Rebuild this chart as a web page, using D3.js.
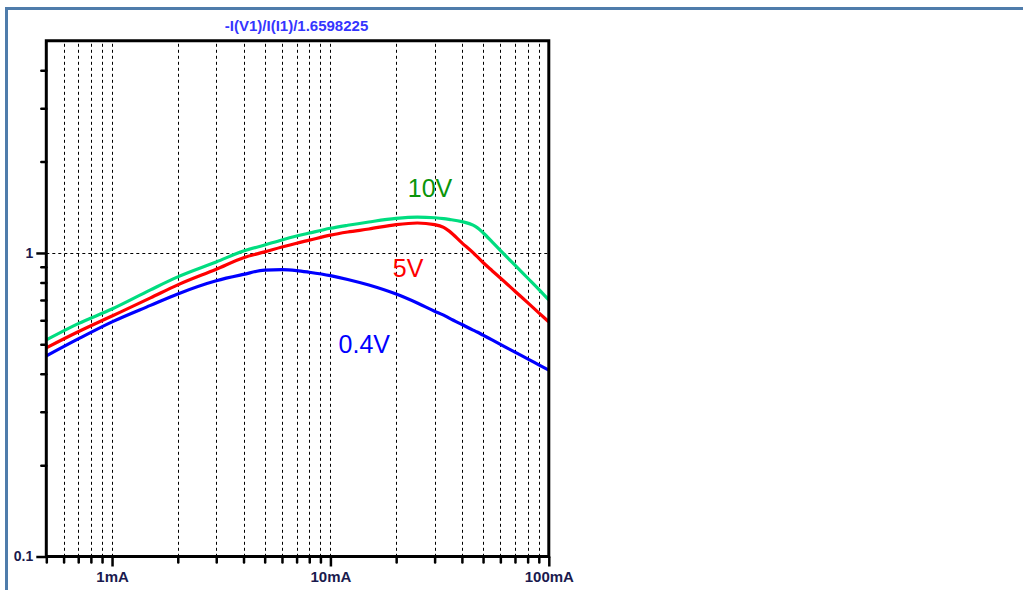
<!DOCTYPE html>
<html><head><meta charset="utf-8">
<script src="https://cdn.jsdelivr.net/npm/d3@7/dist/d3.min.js"></script>
<style>html,body{margin:0;padding:0;background:#fff;}svg{display:block;}</style>
</head><body>
<svg id="chart" width="1023" height="590"></svg>
<script>
// ---- data (current in mA, gain) ----
const currents = [0.5, 0.7, 1, 1.5, 2, 3, 4, 5, 6, 7, 8, 10, 12, 15, 20, 25, 30, 33, 35, 40, 45, 47, 50, 55, 60, 70, 80, 90, 100];
const gain10V = [0.517, 0.585, 0.654, 0.756, 0.834, 0.934, 1.015, 1.062, 1.104, 1.137, 1.163, 1.206, 1.234, 1.265, 1.300, 1.312, 1.306, 1.298, 1.290, 1.268, 1.235, 1.212, 1.166, 1.088, 1.019, 0.912, 0.827, 0.759, 0.700];
const gain5V  = [0.487, 0.550, 0.620, 0.711, 0.785, 0.884, 0.965, 1.008, 1.046, 1.077, 1.102, 1.145, 1.172, 1.199, 1.240, 1.255, 1.240, 1.214, 1.180, 1.080, 1.002, 0.972, 0.930, 0.874, 0.827, 0.748, 0.686, 0.635, 0.593];
const gain04V = [0.458, 0.521, 0.593, 0.672, 0.733, 0.810, 0.850, 0.878, 0.881, 0.875, 0.864, 0.842, 0.818, 0.784, 0.732, 0.684, 0.643, 0.624, 0.610, 0.581, 0.557, 0.549, 0.536, 0.517, 0.500, 0.471, 0.448, 0.428, 0.411];
const seriesNames = ["10V", "5V", "0.4V"];
const xTickLabels = [{v: 1, t: "1mA"}, {v: 10, t: "10mA"}, {v: 100, t: "100mA"}];
const yTickLabels = [{v: 0.1, t: "0.1"}, {v: 1, t: "1"}];
const xMinor = [0.6,0.7,0.8,0.9,2,3,4,5,6,7,8,9,20,30,40,50,60,70,80,90];
const yMinor = [0.2,0.3,0.4,0.5,0.6,0.7,0.8,0.9,2,3,4];
const titleText = "-I(V1)/I(I1)/1.6598225";

// ---- layout ----
const L = 46.3, R = 548.8, T = 40.8, B = 556.5;
const x = d3.scaleLog().domain([0.5, 100]).range([L, R]);
const y = d3.scaleLog().domain([0.1, 5]).range([B, T]);
const svg = d3.select("#chart");
const FONT = "Liberation Sans, Arial, sans-serif";

// outer frame
svg.append("line").attr("x1", 6).attr("x2", 1023).attr("y1", 8.5).attr("y2", 8.5)
  .attr("stroke", "#4f7cab").attr("stroke-width", 3);
svg.append("line").attr("x1", 6.5).attr("x2", 6.5).attr("y1", 7).attr("y2", 590)
  .attr("stroke", "#4f7cab").attr("stroke-width", 3);

// grid
const grid = svg.append("g").attr("stroke", "#000").attr("stroke-width", 1).attr("stroke-dasharray", "3,3");
[...xMinor, 1, 10].forEach(v => {
  grid.append("line").attr("x1", Math.round(x(v)) + 0.5).attr("x2", Math.round(x(v)) + 0.5)
    .attr("y1", T + 3).attr("y2", B);
});
grid.append("line").attr("x1", L).attr("x2", R).attr("y1", Math.round(y(1)) + 0.5).attr("y2", Math.round(y(1)) + 0.5);

// curves
svg.append("clipPath").attr("id", "clip").append("rect")
  .attr("x", L).attr("y", T).attr("width", R - L).attr("height", B - T);
const line = d3.line().x(d => x(d[0])).y(d => y(d[1])).curve(d3.curveMonotoneX);
const curves = [
  {vals: gain10V, color: "#00dd80"},
  {vals: gain5V, color: "#ff0000"},
  {vals: gain04V, color: "#0000ff"}
];
const cg = svg.append("g").attr("clip-path", "url(#clip)");
curves.forEach(c => {
  cg.append("path").datum(currents.map((v, i) => [v, c.vals[i]]))
    .attr("d", line).attr("fill", "none").attr("stroke", c.color)
    .attr("stroke-width", 3.2).attr("stroke-linejoin", "round");
});

// axes box
svg.append("path")
  .attr("d", `M${L},${B}V${T}H${R}V${B}Z`)
  .attr("fill", "none").attr("stroke", "#000").attr("stroke-width", 3);

// x ticks
const xAxis = d3.axisBottom(x).tickValues(xTickLabels.map(d => d.v))
  .tickFormat((d, i) => xTickLabels[i].t).tickSize(10).tickPadding(5);
const gx = svg.append("g").attr("transform", `translate(0,${B})`).call(xAxis);
gx.select(".domain").remove();
gx.selectAll(".tick line").attr("stroke", "#000").attr("stroke-width", 2.5);
gx.selectAll(".tick text").attr("font-family", FONT)
  .attr("font-size", 15).attr("font-weight", "bold").attr("fill", "#1a1a4e");
const xm = d3.axisBottom(x).tickValues([0.5, ...xMinor]).tickFormat("").tickSize(6);
const gxm = svg.append("g").attr("transform", `translate(0,${B})`).call(xm);
gxm.select(".domain").remove();
gxm.selectAll(".tick line").attr("stroke", "#000").attr("stroke-width", 2.5).attr("stroke-linecap", "round");

// y ticks
const yAxis = d3.axisLeft(y).tickValues(yTickLabels.map(d => d.v))
  .tickFormat((d, i) => yTickLabels[i].t).tickSize(10).tickPadding(3);
const gy = svg.append("g").attr("transform", `translate(${L},0)`).call(yAxis);
gy.select(".domain").remove();
gy.selectAll(".tick line").attr("stroke", "#000").attr("stroke-width", 2.5);
gy.selectAll(".tick text").attr("font-family", FONT)
  .attr("font-size", 14).attr("font-weight", "bold").attr("fill", "#1a1a4e");
const ym = d3.axisLeft(y).tickValues(yMinor).tickFormat("").tickSize(5);
const gym = svg.append("g").attr("transform", `translate(${L},0)`).call(ym);
gym.select(".domain").remove();
gym.selectAll(".tick line").attr("stroke", "#000").attr("stroke-width", 2.5).attr("stroke-linecap", "round");

// title
svg.append("text").attr("x", (L + R) / 2 - 1).attr("y", 31).attr("text-anchor", "middle")
  .attr("font-family", FONT).attr("font-size", 15)
  .attr("font-weight", "bold").attr("fill", "#3535ff").text(titleText);

// series labels
const labelPos = [
  {name: seriesNames[0], xv: 22.6, yv: 1.53, color: "#0a950a"},
  {name: seriesNames[1], xv: 19.3, yv: 0.834, color: "#ff0000"},
  {name: seriesNames[2], xv: 10.9, yv: 0.468, color: "#0000ff"}
];
labelPos.forEach(l => {
  svg.append("text").attr("x", x(l.xv)).attr("y", y(l.yv))
    .attr("font-family", FONT).attr("font-size", 25)
    .attr("fill", l.color).text(l.name);
});
</script>
</body></html>
